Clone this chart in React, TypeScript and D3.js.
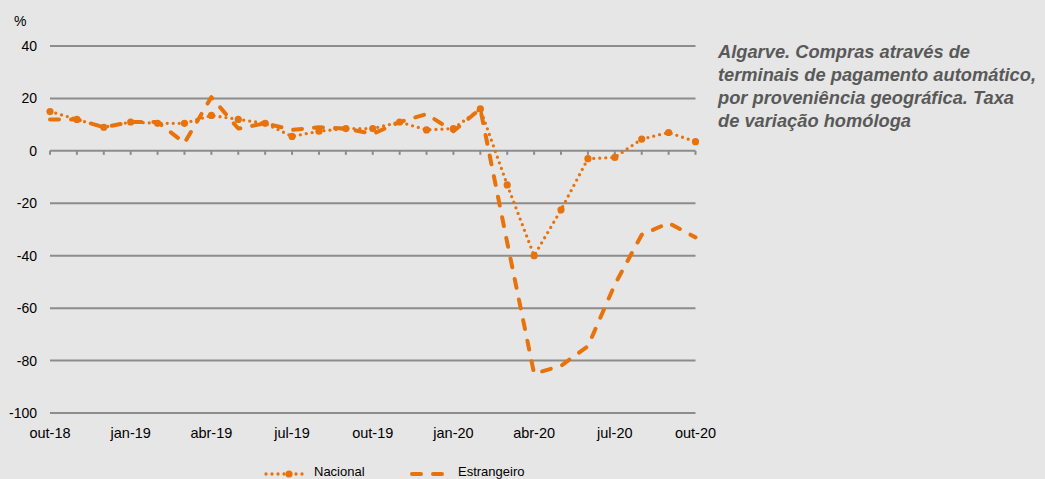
import React from "react";
import * as d3 from "d3";

const months = [
  "out-18","nov-18","dez-18","jan-19","fev-19","mar-19","abr-19","mai-19","jun-19",
  "jul-19","ago-19","set-19","out-19","nov-19","dez-19","jan-20","fev-20","mar-20",
  "abr-20","mai-20","jun-20","jul-20","ago-20","set-20","out-20",
];
const nacional = [15, 12, 9, 11, 10.5, 10.5, 13.5, 12, 10.5, 5.5, 7.5, 8.5, 8.5, 11, 8, 8.5, 16, -13, -40, -22.5, -3, -2.5, 4.5, 7, 3.5];
const estrangeiro = [12, 12, 9, 11, 11, 3, 20.5, 8.5, 10.5, 8, 9, 8.5, 6.5, 11, 14, 7.5, 16, -35, -85, -82, -74.5, -51, -32, -27.5, -33];
const yTicks = [40, 20, 0, -20, -40, -60, -80, -100];
const xLabelEvery = 3;
const titleLines = [
  "Algarve. Compras através de",
  "terminais de pagamento automático,",
  "por proveniência geográfica. Taxa",
  "de variação homóloga",
];

const W = 1045;
const H = 479;
const ORANGE = "#e8720c";
const GRID = "#8c8c8c";
const BG = "#e6e6e6";
const FONT = "'Liberation Sans', Arial, sans-serif";

export default function App() {
  const x = d3.scaleLinear().domain([0, months.length - 1]).range([50, 695.5]);
  const y = d3.scaleLinear().domain([-100, 40]).range([413, 46]);
  const line = d3
    .line<number>()
    .x((_, i) => x(i))
    .y((d) => y(d))
    .curve(d3.curveLinear);

  return (
    <div style={{ position: "fixed", left: 0, top: 0, width: W, height: H, background: BG }}>
      <svg width={W} height={H} style={{ display: "block" }} fontFamily={FONT}>
        <rect x={0} y={0} width={W} height={H} fill={BG} />
        {/* grid */}
        {yTicks.map((t) => (
          <g key={t}>
            <line x1={50} x2={695.5} y1={y(t)} y2={y(t)} stroke={GRID} strokeWidth={2} />
            <text x={37} y={y(t)} dy="0.36em" textAnchor="end" fontSize={14} fill="#000">
              {t}
            </text>
          </g>
        ))}
        <text x={14} y={26} fontSize={14} fill="#000">%</text>
        {/* month ticks on zero line */}
        {months.map((m, i) => (
          <line key={m} x1={x(i)} x2={x(i)} y1={y(0)} y2={y(0) + 4} stroke={GRID} strokeWidth={2} />
        ))}
        {/* x labels */}
        {months.map((m, i) =>
          i % xLabelEvery === 0 ? (
            <text key={"l" + m} x={x(i)} y={438} textAnchor="middle" fontSize={14.5} fill="#000">
              {m}
            </text>
          ) : null
        )}
        {/* series */}
        <path
          d={line(estrangeiro) || ""}
          fill="none"
          stroke={ORANGE}
          strokeWidth={4}
          strokeDasharray="9 12"
          strokeLinecap="round"
          strokeLinejoin="round"
        />
        <path
          d={line(nacional) || ""}
          fill="none"
          stroke={ORANGE}
          strokeWidth={3.3}
          strokeDasharray="0 6"
          strokeLinecap="round"
          strokeLinejoin="round"
        />
        {nacional.map((v, i) => (
          <circle key={"c" + i} cx={x(i)} cy={y(v)} r={3.6} fill={ORANGE} />
        ))}
        {/* title */}
        {titleLines.map((t, i) => (
          <text
            key={t}
            x={718}
            y={58 + i * 23}
            fontSize={18.3}
            fontWeight="bold"
            fontStyle="italic"
            fill="#595959"
          >
            {t}
          </text>
        ))}
        {/* legend */}
        <line x1={266} x2={307} y1={474} y2={474} stroke={ORANGE} strokeWidth={3.3} strokeDasharray="0 6" strokeLinecap="round" />
        <circle cx={289} cy={474} r={3.6} fill={ORANGE} />
        <text x={314} y={476} fontSize={13} fill="#000">Nacional</text>
        <line x1={412} x2={444} y1={474} y2={474} stroke={ORANGE} strokeWidth={4} strokeDasharray="9 12" strokeLinecap="round" />
        <text x={458} y={476} fontSize={13} fill="#000">Estrangeiro</text>
      </svg>
    </div>
  );
}
